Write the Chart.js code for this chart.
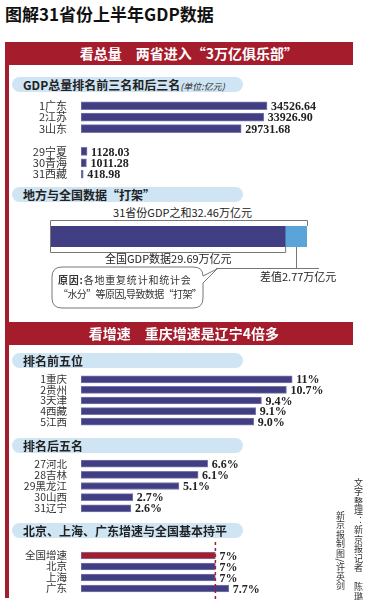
<!DOCTYPE html>
<html>
<head>
<meta charset="utf-8">
<script src="https://cdn.jsdelivr.net/npm/chart.js@4.4.0/dist/chart.umd.min.js"></script>
<style>
body { margin:0; width:365px; height:600px; background:#fff; position:relative; overflow:hidden; font-family:"Noto Sans CJK SC", sans-serif; color:#222; }
.abs { position:absolute; white-space:nowrap; }
canvas { position:absolute; left:0; }
.title { left:5px; top:2px; font-size:17px; font-weight:bold; color:#111; line-height:24px; }
.frame { left:5px; top:42px; width:4px; height:556px; background:#a51d2d; }
.band { left:5px; width:348px; height:23px; background:#a51d2d; color:#fff; font-weight:bold; font-size:14px; line-height:23px; text-align:center; }
.pill { left:12px; width:231px; height:15px; border-radius:8px; background:#cfe5f4; font-size:12px; font-weight:bold; line-height:15px; padding-left:11px; box-sizing:border-box; color:#222; }
.pill small { font-size:9px; font-weight:normal; font-style:italic; }
.note { font-size:11px; line-height:13px; color:#222; }
.bubble { font-size:10px; line-height:12px; color:#333; left:58px; }
.credit { writing-mode:vertical-rl; font-size:9px; letter-spacing:0.5px; color:#333; line-height:10px; }
</style>
</head>
<body>
<div class="abs title">图解31省份上半年GDP数据</div>
<div class="abs frame"></div>

<div class="abs band" style="top:42px;padding-left:20px;box-sizing:border-box;">看总量　两省进入“3万亿俱乐部”</div>
<div class="abs pill" style="top:77px;">GDP总量排名前三名和后三名<small>(单位:亿元)</small></div>
<canvas id="gdpChart" width="365" height="80" style="top:100px"></canvas>

<div class="abs pill" style="top:187px;">地方与全国数据“打架”</div>
<div class="abs note" id="sumNote" style="top:206px;left:0;width:365px;text-align:center;padding-right:1px;"></div>
<svg class="abs" width="365" height="600" style="left:0;top:0;">
  <path d="M62,267 H193 Q203,267 203,276 L217,269 L203,283 V298 Q203,308 193,308 H62 Q52,308 52,298 V277 Q52,267 62,267 Z" fill="#fff" stroke="#777" stroke-width="1"/>
</svg>
<canvas id="gapChart" width="365" height="75" style="top:205px"></canvas>
<div class="abs note" id="nationalNote" style="top:252px;left:105px;"></div>
<div class="abs note" id="gapNote" style="top:270px;left:260px;"></div>
<div class="abs bubble" style="top:274px;letter-spacing:0.8px;"><b>原因:</b>各地重复统计和统计会</div>
<div class="abs bubble" style="top:288px;letter-spacing:-0.6px;">“水分”等原因,导致数据“打架”</div>

<div class="abs band" style="top:322px;padding-left:10px;box-sizing:border-box;">看增速　重庆增速是辽宁4倍多</div>
<div class="abs pill" style="top:353px;">排名前五位</div>
<canvas id="topChart" width="365" height="53" style="top:374px"></canvas>

<div class="abs pill" style="top:438px;">排名后五名</div>
<canvas id="bottomChart" width="365" height="56" style="top:458px"></canvas>

<div class="abs pill" style="top:523px;">北京、上海、广东增速与全国基本持平</div>
<canvas id="compareChart" width="365" height="60" style="top:540px"></canvas>

<div class="abs credit" style="left:353px;top:478px;">文字整理：新京报记者　陈璐</div>
<div class="abs credit" style="left:335px;top:511px;">新京报制图/许英剑</div>

<script>
// GDP total, top three and bottom three (亿元); '' is the gap row
var gdpLabels = ['1广东', '2江苏', '3山东', '', '29宁夏', '30青海', '31西藏'];
var gdpValues = [34526.64, 33926.90, 29731.68, null, 1128.03, 1011.28, 418.98];

// 万亿元
var nationalGdp = 29.69;
var gapGdp = 2.77;

// growth rate (%)
var topLabels = ['1重庆', '2贵州', '3天津', '4西藏', '5江西'];
var topRates = [11, 10.7, 9.4, 9.1, 9.0];
var topRateText = ['11%', '10.7%', '9.4%', '9.1%', '9.0%'];

var bottomLabels = ['27河北', '28吉林', '29黑龙江', '30山西', '31辽宁'];
var bottomRates = [6.6, 6.1, 5.1, 2.7, 2.6];
var bottomRateText = ['6.6%', '6.1%', '5.1%', '2.7%', '2.6%'];

var compareLabels = ['全国增速', '北京', '上海', '广东'];
var compareRates = [7, 7, 7, 7.7];
var compareRateText = ['7%', '7%', '7%', '7.7%'];

var NAVY = '#423e84';
var RED = '#a51d2d';
var SKY = '#5ba4da';

var valueLabels = {
    id: 'valueLabels',
    afterDatasetsDraw: function (chart, args, opts) {
        if (!opts.texts) return;
        var ctx = chart.ctx;
        ctx.save();
        ctx.font = 'bold 12px "Liberation Serif", serif';
        ctx.fillStyle = '#222';
        ctx.textBaseline = 'middle';
        chart.getDatasetMeta(0).data.forEach(function (bar, i) {
            if (!opts.texts[i]) return;
            ctx.fillText(opts.texts[i], bar.x + 4, bar.y + 1);
        });
        ctx.restore();
    }
};

// dashed line at the national rate
var refLine = {
    id: 'refLine',
    afterDatasetsDraw: function (chart, args, opts) {
        if (opts.value == null) return;
        var ctx = chart.ctx;
        var x = chart.scales.x.getPixelForValue(opts.value);
        ctx.save();
        ctx.strokeStyle = RED;
        ctx.lineWidth = 1.5;
        ctx.setLineDash([3, 3]);
        ctx.beginPath();
        ctx.moveTo(x, 2);
        ctx.lineTo(x, chart.height);
        ctx.stroke();
        ctx.restore();
    }
};

function rankChart(id, labels, values, max, colors, texts, thickness, refValue, fontSize) {
    return new Chart(document.getElementById(id), {
        type: 'bar',
        data: {
            labels: labels,
            datasets: [{
                data: values,
                backgroundColor: colors,
                borderColor: '#7a78a8',
                borderWidth: 1,
                barThickness: thickness,
                borderSkipped: false
            }]
        },
        plugins: [valueLabels, refLine],
        options: {
            indexAxis: 'y',
            responsive: false,
            animation: false,
            layout: { padding: { right: 20, top: refValue != null ? 10 : 0, bottom: refValue != null ? 6 : 0 } },
            scales: {
                x: { display: false, min: 0, max: max },
                y: {
                    grid: { display: false },
                    border: { display: false },
                    ticks: {
                        autoSkip: false,
                        padding: 6,
                        color: '#333',
                        font: { family: '"Noto Sans CJK SC"', size: fontSize }
                    },
                    afterFit: function (scale) {
                        scale.width = 81;
                        scale.paddingTop = 0;
                        scale.paddingBottom = 0;
                    }
                }
            },
            plugins: {
                legend: { display: false },
                tooltip: { enabled: false },
                valueLabels: { texts: texts },
                refLine: { value: refValue }
            }
        }
    });
}

rankChart('gdpChart', gdpLabels, gdpValues, 49000, NAVY,
    gdpValues.map(function (v) { return v == null ? '' : v.toFixed(2); }), 8, null, 11);
rankChart('topChart', topLabels, topRates, 13.75, NAVY, topRateText, 7, null, 10.5);
rankChart('bottomChart', bottomLabels, bottomRates, 13.75, NAVY, bottomRateText, 7, null, 10.5);
rankChart('compareChart', compareLabels, compareRates, 13.75,
    compareLabels.map(function (l, i) { return i == 0 ? RED : NAVY; }), compareRateText, 7, compareRates[0], 10.5);

// local sum vs national figure
var provinceSum = nationalGdp + gapGdp;
document.getElementById('sumNote').textContent = '31省份GDP之和' + provinceSum.toFixed(2) + '万亿元';
document.getElementById('nationalNote').textContent = '全国GDP数据' + nationalGdp.toFixed(2) + '万亿元';
document.getElementById('gapNote').textContent = '差值' + gapGdp.toFixed(2) + '万亿元';

var brackets = {
    id: 'brackets',
    afterDatasetsDraw: function (chart) {
        var ctx = chart.ctx;
        var xs = chart.scales.x;
        var bar = chart.getDatasetMeta(1).data[0];
        var top = bar.y - bar.height / 2;
        var bottom = bar.y + bar.height / 2;
        var x0 = xs.getPixelForValue(0);
        var xn = xs.getPixelForValue(nationalGdp);
        var xt = xs.getPixelForValue(provinceSum);
        var xm = (xn + xt) / 2;
        ctx.save();
        ctx.strokeStyle = '#777';
        ctx.lineWidth = 1;
        ctx.beginPath();
        // whole sum
        ctx.moveTo(x0 - 0.5, bottom);
        ctx.lineTo(x0 - 0.5, top - 5.5);
        ctx.lineTo(xt + 0.5, top - 5.5);
        ctx.lineTo(xt + 0.5, top);
        // national
        ctx.moveTo(x0 - 0.5, top);
        ctx.lineTo(x0 - 0.5, bottom + 5.5);
        ctx.lineTo(xn + 0.5, bottom + 5.5);
        ctx.lineTo(xn + 0.5, bottom);
        // gap pointer
        ctx.moveTo(Math.round(xm) + 0.5, bottom);
        ctx.lineTo(Math.round(xm) + 0.5, bottom + 21.5);
        ctx.moveTo(xm - 80, bottom + 21.5);
        ctx.lineTo(xm + 23, bottom + 21.5);
        ctx.stroke();
        ctx.restore();
    }
};

new Chart(document.getElementById('gapChart'), {
    type: 'bar',
    data: {
        labels: [''],
        datasets: [
            { data: [nationalGdp], backgroundColor: NAVY, barThickness: 21 },
            { data: [gapGdp], backgroundColor: SKY, barThickness: 21 }
        ]
    },
    plugins: [brackets],
    options: {
        indexAxis: 'y',
        responsive: false,
        animation: false,
        layout: { padding: { left: 51, right: 58, top: 21, bottom: 33 } },
        scales: {
            x: { display: false, stacked: true, min: 0, max: provinceSum },
            y: { display: false, stacked: true }
        },
        plugins: { legend: { display: false }, tooltip: { enabled: false } }
    }
});
</script>
</body>
</html>
